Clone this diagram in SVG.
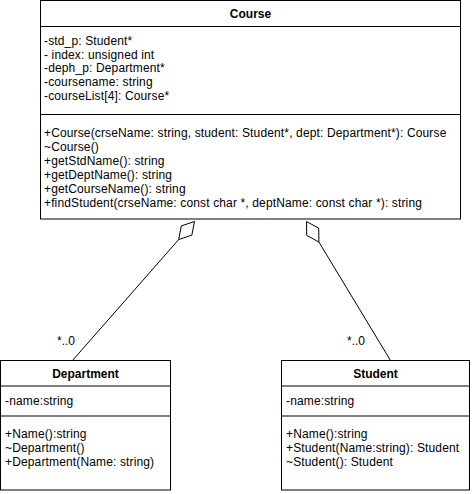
<svg xmlns="http://www.w3.org/2000/svg" width="472" height="494" viewBox="0 0 472 494">
  <style>
    .box { fill: #ffffff; stroke: #000000; stroke-width: 1; }
    .sep { stroke: #000000; stroke-width: 1; fill: none; }
    .title { font-family: "Liberation Sans", Arial, Helvetica, sans-serif; font-size: 12px; font-weight: bold; fill: #000000; text-anchor: middle; }
    .member { font-family: "Liberation Sans", Arial, Helvetica, sans-serif; font-size: 12px; letter-spacing: 0.14px; fill: #000000; }
    .mult { font-family: "Liberation Sans", Arial, Helvetica, sans-serif; font-size: 12px; fill: #000000; }
    .edge { stroke: #000000; stroke-width: 1; fill: none; }
    .diamond { stroke: #000000; stroke-width: 1; fill: #ffffff; stroke-linejoin: miter; }
  </style>

  <rect width="472" height="494" fill="#ffffff"/>

  <!-- Connectors: aggregation from Department and Student into Course -->
  <g id="connectors">
    <g id="edge-department-course">
      <line class="edge" x1="72.5" y1="360.5" x2="178.66" y2="239.55"/>
      <polygon class="diamond" points="194.5,221.5 181.32,225.9 178.66,239.55 191.84,235.14"/>
      <text class="mult" x="57" y="344.5">*..0</text>
    </g>
    <g id="edge-student-course">
      <line class="edge" x1="390.5" y1="360.5" x2="318.91" y2="242.04"/>
      <polygon class="diamond" points="306.5,221.5 318.69,228.15 318.91,242.04 306.71,235.39"/>
      <text class="mult" x="347" y="344.5">*..0</text>
    </g>
  </g>

  <!-- Course class -->
  <g id="course">
    <rect class="box" x="40.5" y="0.5" width="420" height="218.5"/>
    <line class="sep" x1="40.5" y1="26.5" x2="460.5" y2="26.5"/>
    <line class="sep" x1="40.5" y1="114.5" x2="460.5" y2="114.5"/>
    <text class="title" x="250.5" y="18">Course</text>
    <text class="member" x="44" y="45">-std_p: Student*</text>
    <text class="member" x="44" y="58.7">- index: unsigned int</text>
    <text class="member" x="44" y="72.4">-deph_p: Department*</text>
    <text class="member" x="44" y="86.1">-coursename: string</text>
    <text class="member" x="44" y="99.8">-courseList[4]: Course*</text>
    <text class="member" x="44" y="136.5">+Course(crseName: string, student: Student*, dept: Department*): Course</text>
    <text class="member" x="44" y="150.5">~Course()</text>
    <text class="member" x="44" y="164.5">+getStdName(): string</text>
    <text class="member" x="44" y="178.5">+getDeptName(): string</text>
    <text class="member" x="44" y="192.5">+getCourseName(): string</text>
    <text class="member" x="44" y="206.5">+findStudent(crseName: const char *, deptName: const char *): string</text>
  </g>

  <!-- Department class -->
  <g id="department">
    <rect class="box" x="0.5" y="360.5" width="170" height="129.5"/>
    <line class="sep" x1="0.5" y1="386" x2="170.5" y2="386"/>
    <line class="sep" x1="0.5" y1="416" x2="170.5" y2="416"/>
    <text class="title" x="85.5" y="377.5">Department</text>
    <text class="member" x="5" y="404.5">-name:string</text>
    <text class="member" x="5" y="437.5">+Name():string</text>
    <text class="member" x="5" y="451.7">~Department()</text>
    <text class="member" x="5" y="465.9">+Department(Name: string)</text>
  </g>

  <!-- Student class -->
  <g id="student">
    <rect class="box" x="281.5" y="360.5" width="188" height="129.5"/>
    <line class="sep" x1="281.5" y1="386" x2="469.5" y2="386"/>
    <line class="sep" x1="281.5" y1="416" x2="469.5" y2="416"/>
    <text class="title" x="375.5" y="377.5">Student</text>
    <text class="member" x="286" y="404.5">-name:string</text>
    <text class="member" x="286" y="437.5">+Name():string</text>
    <text class="member" x="286" y="451.7">+Student(Name:string): Student</text>
    <text class="member" x="286" y="465.9">~Student(): Student</text>
  </g>
</svg>
